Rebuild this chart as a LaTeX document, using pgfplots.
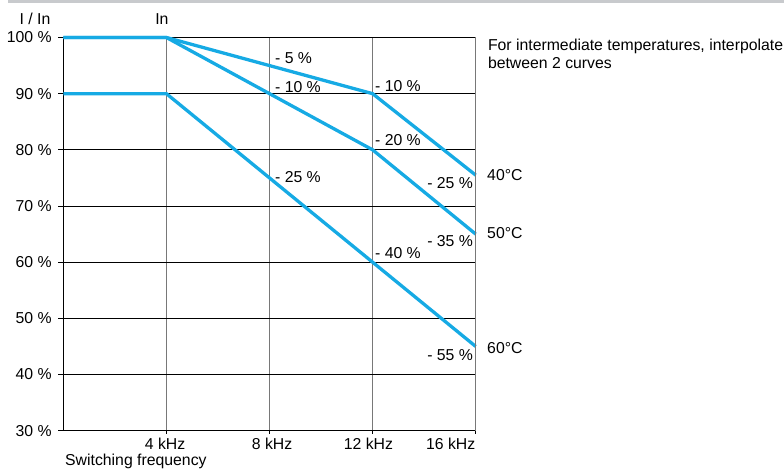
\documentclass[border=0pt]{standalone}
\usepackage{fontspec}
\setmainfont{Liberation Sans}
\usepackage{pgfplots}
\pgfplotsset{compat=1.18}
\definecolor{curve}{RGB}{22,170,228}
\definecolor{bar}{RGB}{200,202,205}
\definecolor{vgrid}{RGB}{120,120,120}
\newcommand{\fs}{\fontsize{15.8}{18}\selectfont}
\begin{document}
\begin{tikzpicture}[font=\fs]
\useasboundingbox (-63.3pt,-39.3pt) rectangle (720.7pt,430.7pt);
\fill[bar] (-55.3pt,427.7pt) rectangle (720.7pt,430.7pt);
\begin{axis}[
  at={(0pt,0pt)}, anchor=south west,
  scale only axis, width=412.4pt, height=393.2pt,
  xmin=0, xmax=16, ymin=30, ymax=100,
  clip=false,
  axis line style={black, line width=0.8pt},
  xtick={4,8,12,16}, xticklabels={},
  ytick={30,40,50,60,70,80,90,100},
  yticklabels={30 \%,40 \%,50 \%,60 \%,70 \%,80 \%,90 \%,100 \%},
  xtick pos=bottom, ytick pos=left,
  tick align=outside,
  major tick length=5pt,
  xtick style={/pgfplots/major tick length=3pt},
  tick style={black, line width=0.8pt},
  yticklabel style={anchor=east, inner sep=0pt, xshift=-6.5pt, font=\fs},
  grid=major,
  major x grid style={vgrid, line width=1.1pt},
  major y grid style={black, line width=0.7pt},
]
\addplot[curve, line width=3.3pt, line join=round] coordinates {(0,100) (4,100) (8,95) (12,90) (16,75.5)};
\addplot[curve, line width=3.3pt, line join=round] coordinates {(0,100) (4,100) (8,90) (12,80) (16,65)};
\addplot[curve, line width=3.3pt, line join=round] coordinates {(0,90) (4,90) (8,75) (12,60) (16,45)};
\draw[vgrid, line width=1.1pt] (axis cs:16,30) -- (axis cs:16,100);

\node[anchor=base west, inner sep=0pt] at (axis cs:8.21,95.41) {- 5 \%};
\node[anchor=base west, inner sep=0pt] at (axis cs:8.21,90.17) {- 10 \%};
\node[anchor=base west, inner sep=0pt] at (axis cs:12.09,90.35) {- 10 \%};
\node[anchor=base west, inner sep=0pt] at (axis cs:12.09,80.86) {- 20 \%};
\node[anchor=base west, inner sep=0pt] at (axis cs:8.21,74.15) {- 25 \%};
\node[anchor=base west, inner sep=0pt] at (axis cs:12.09,60.74) {- 40 \%};
\node[anchor=base east, inner sep=0pt] at (axis cs:15.90,73.2) {- 25 \%};
\node[anchor=base east, inner sep=0pt] at (axis cs:15.90,62.88) {- 35 \%};
\node[anchor=base east, inner sep=0pt] at (axis cs:15.90,42.46) {- 55 \%};
\node[anchor=base west, inner sep=0pt] at (axis cs:16.44,74.5) {40°C};
\node[anchor=base west, inner sep=0pt] at (axis cs:16.44,64.13) {50°C};
\node[anchor=base west, inner sep=0pt] at (axis cs:16.44,43.78) {60°C};
\node[anchor=base west, inner sep=0pt] at (axis cs:16.47,97.65) {For intermediate temperatures, interpolate};
\node[anchor=base west, inner sep=0pt] at (axis cs:16.47,94.45) {between 2 curves};
\node[anchor=base, inner sep=0pt] at (axis cs:-1.098,102.23) {I / In};
\node[anchor=base west, inner sep=0pt] at (axis cs:3.56,102.23) {In};
\node[anchor=base, inner sep=0pt] at (axis cs:3.95,26.65) {4 kHz};
\node[anchor=base, inner sep=0pt] at (axis cs:8.10,26.65) {8 kHz};
\node[anchor=base, inner sep=0pt] at (axis cs:11.84,26.65) {12 kHz};
\node[anchor=base east, inner sep=0pt] at (axis cs:15.99,26.65) {16 kHz};
\node[anchor=base west, inner sep=0pt] at (axis cs:0.066,23.75) {Switching frequency};
\end{axis}
\end{tikzpicture}
\end{document}
